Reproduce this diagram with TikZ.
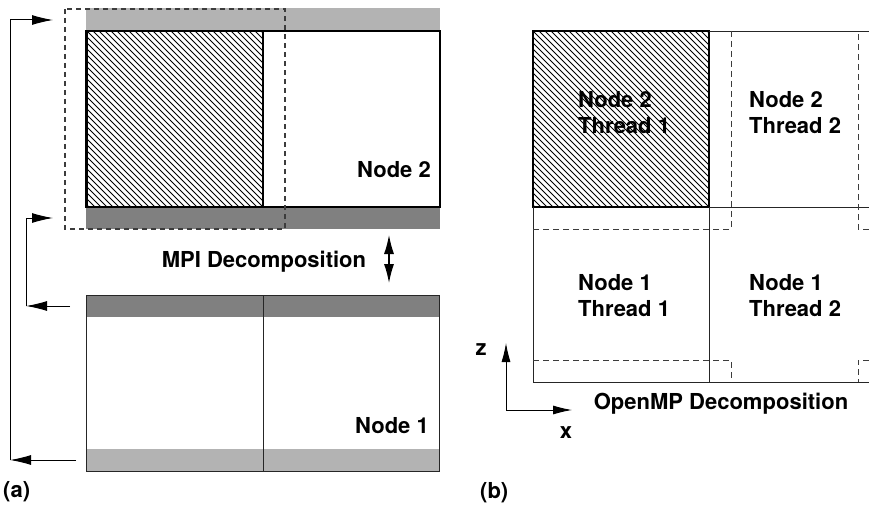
\documentclass[tikz,border=0pt]{standalone}
\usepackage{fontspec}
\setmainfont{TeX Gyre Heros}
\usetikzlibrary{arrows.meta}
\definecolor{bandlight}{HTML}{B3B3B3}
\definecolor{banddark}{HTML}{808080}
\definecolor{dashgray}{HTML}{3C3C3C}
\begin{document}
\begin{tikzpicture}[x=1pt,y=-1pt,
  lbl/.style={font=\fontsize{22}{26}\selectfont\bfseries,inner sep=0pt},
  twoline/.style={lbl,align=left,anchor=west},
  frame/.style={line width=1.3pt,black},
  thinframe/.style={line width=0.9pt,black!85},
  ghost/.style={line width=1pt,dashgray,dash pattern=on 6pt off 4pt},
  ghostbox/.style={line width=1.2pt,dashgray,dash pattern=on 5pt off 4pt},
  bigtip/.style={-{Latex[length=21pt,width=10pt]},line width=1pt},
  axtip/.style={-{Latex[length=19pt,width=9pt]},line width=0.9pt},
  hatch/.style={line width=0.8pt,black}]
\useasboundingbox (0,0) rectangle (869,505);

% ---------------- (a) MPI decomposition ----------------
% Node 2: ghost bands and hatched subdomain
\fill[bandlight] (86,8) rectangle (440,31);
\fill[banddark] (86,207) rectangle (440,229);
\begin{scope}
  \clip (87,31) rectangle (263,207);
  \foreach \i in {-186,-180,...,186}
    \draw[hatch] (87+\i,31) -- (263+\i,207);
\end{scope}
\draw[frame] (86,31) rectangle (440,207);
\draw[frame] (87,31) rectangle (263,207);
\node[lbl] (n2) at (394,170) {Node 2};

% Node 1: ghost bands and two halves
\fill[banddark] (86,295) rectangle (439,317);
\fill[bandlight] (86,449) rectangle (439,471);
\draw[thinframe] (86,295) rectangle (439,471);
\draw[thinframe] (263,295) -- (263,471);
\node[lbl] (n1) at (392,426) {Node 1};

% dashed box round the subdomain with its halo
\draw[ghostbox] (65,9) rectangle (285,229);

% halo exchange arrows
\coordinate (n1top) at (70,306);
\coordinate (n1bot) at (76,460);
\coordinate (n2bot) at (53,218);
\coordinate (n2top) at (53,20);
\coordinate (c1) at (26,306);
\coordinate (c2) at (10,460);
\draw[bigtip] (n1top) -- (c1);
\draw[line width=1pt] (c1) |- ([xshift=-20pt]n2bot);
\draw[bigtip] ([xshift=-27pt]n2bot) -- (n2bot);
\draw[bigtip] (n1bot) -- (c2);
\draw[line width=1pt] (c2) |- ([xshift=-25pt]n2top);
\draw[bigtip] ([xshift=-43pt]n2top) -- (n2top);

\node[lbl] (mpi) at (264,262) {MPI Decomposition};
\coordinate (mu) at (389,235);
\coordinate (md) at (389,283);
\draw[{Latex[length=19pt,width=10pt]}-{Latex[length=19pt,width=10pt]},line width=1.2pt] (mu) -- (md);

\node[lbl,anchor=west] (la) at (3,492) {(a)};

% ---------------- (b) OpenMP decomposition ----------------
\begin{scope}
  \clip (533,31) rectangle (709,207);
  \foreach \i in {-186,-180,...,186}
    \draw[hatch] (533+\i,31) -- (709+\i,207);
\end{scope}
\draw[frame] (533,31) rectangle (709,207);
\draw[thinframe] (709,31) -- (869,31);
\draw[thinframe] (709,207) -- (869,207);
\draw[thinframe] (533,207) -- (533,382) -- (869,382);
\draw[thinframe] (709,207) -- (709,382);

% thread halos
\draw[ghost] (731,31) -- (731,229) -- (533,229);
\draw[ghost] (869,229) -- (858,229) -- (858,31);
\draw[ghost] (533,360) -- (731,360) -- (731,382);
\draw[ghost] (869,360) -- (858,360) -- (858,382);

\node[twoline] (t21) at (578,113) {Node 2\\Thread 1};
\node[twoline] (t22) at (749,113) {Node 2\\Thread 2};
\node[twoline] (t11) at (578,296) {Node 1\\Thread 1};
\node[twoline] (t12) at (749,296) {Node 1\\Thread 2};

% axes
\coordinate (org) at (506,410);
\coordinate (zend) at (506,343);
\coordinate (xend) at (572,410);
\draw[axtip] (org) -- (zend);
\draw[axtip] (org) -- (xend);
\node[lbl] (zl) at (481,350) {z};
\node[lbl] (xl) at (566,433) {x};
\node[lbl] (omp) at (721,404) {OpenMP Decomposition};

\node[lbl,anchor=west] (lb) at (480,493) {(b)};
\end{tikzpicture}
\end{document}
